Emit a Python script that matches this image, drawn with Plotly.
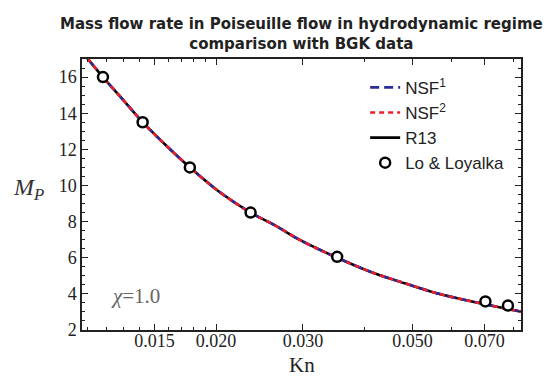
import plotly.graph_objects as go

# Curve data (R13 / NSF)
kn_curve = [0.0107, 0.0110, 0.0118, 0.0130, 0.0142, 0.0160, 0.0177, 0.0203, 0.0235,
            0.0265, 0.0295, 0.0352, 0.0416, 0.0486, 0.0568, 0.0640, 0.0703, 0.0781, 0.0830]
m_r13 = [17.4, 17.0, 16.0, 14.7, 13.5, 12.1, 11.0, 9.65, 8.5,
         7.75, 7.0, 6.0, 5.17, 4.56, 3.99, 3.66, 3.42, 3.16, 3.02]
m_nsf1 = list(m_r13)
m_nsf2 = list(m_r13)

# Lo & Loyalka BGK data
kn_data = [0.0118, 0.0142, 0.0177, 0.0235, 0.0352, 0.0703, 0.0781]
m_data = [16.0, 13.5, 11.0, 8.5, 6.05, 3.58, 3.35]

x_tickvals = [0.015, 0.020, 0.030, 0.050, 0.070]
x_ticktext = ["0.015", "0.020", "0.030", "0.050", "0.070"]
x_minor = [0.011, 0.012, 0.013, 0.014, 0.016, 0.017, 0.018, 0.019, 0.04, 0.06, 0.08]
y_tickvals = [2, 4, 6, 8, 10, 12, 14, 16]

BLUE = "#2b2ba0"
RED = "#ea1f2a"
SANS = "DejaVu Sans"

fig = go.Figure()
fig.add_trace(go.Scatter(x=kn_curve, y=m_r13, mode="lines", name="R13",
                         line=dict(color="black", width=2.6, shape="spline"), legendrank=3))
fig.add_trace(go.Scatter(x=kn_curve, y=m_nsf1, mode="lines", name="NSF<sup>1</sup>",
                         line=dict(color=BLUE, width=2.6, dash="9px,5px", shape="spline"), legendrank=1))
fig.add_trace(go.Scatter(x=kn_curve, y=m_nsf2, mode="lines", name="NSF<sup>2</sup>",
                         line=dict(color=RED, width=2.6, dash="5px,4px", shape="spline"), legendrank=2))
fig.add_trace(go.Scatter(x=kn_data, y=m_data, mode="markers", name="Lo &amp; Loyalka",
                         marker=dict(symbol="circle", size=10, color="white",
                                     line=dict(color="black", width=2.5)), legendrank=4))

axis_common = dict(showline=True, linecolor="#222", linewidth=1.5, mirror="ticks",
                   ticks="inside", tickcolor="#222", ticklen=6, tickwidth=1,
                   showgrid=False, zeroline=False,
                   tickfont=dict(family="Liberation Serif", size=18, color="#222"))

fig.update_xaxes(type="log", range=[-1.9706, -1.0809],
                 tickmode="array", tickvals=x_tickvals, ticktext=x_ticktext,
                 ticklabelstandoff=-6,
                 minor=dict(tickmode="array", tickvals=x_minor, ticks="inside",
                            ticklen=3, tickcolor="#222"),
                 **axis_common)
fig.update_yaxes(range=[2, 17], tickmode="array", tickvals=y_tickvals,
                 minor=dict(dtick=0.5, ticks="inside", ticklen=3, tickcolor="#222"),
                 **axis_common)

fig.update_layout(
    width=552, height=376,
    margin=dict(l=82, r=31, t=59, b=46),
    paper_bgcolor="white", plot_bgcolor="white",
    showlegend=True,
    legend=dict(x=0.645, y=0.96, xanchor="left", yanchor="top",
                bgcolor="rgba(0,0,0,0)", borderwidth=0,
                font=dict(family="Liberation Sans", size=17, color="#222"),
                itemwidth=30, tracegroupgap=0),
    annotations=[
        dict(text="<b>Mass flow rate in Poiseuille flow in hydrodynamic regime<br>comparison with BGK data</b>",
             xref="paper", yref="paper", x=0.5, y=1.0, yshift=4, xanchor="center", yanchor="bottom",
             showarrow=False, align="center",
             font=dict(family=SANS, size=15, color="#222")),
        dict(text="<i>M</i><sub><i>P</i></sub>", xref="paper", yref="paper",
             x=-0.162, y=0.52, xanchor="left", yanchor="middle", showarrow=False,
             font=dict(family="Liberation Serif", size=24, color="#333")),
        dict(text="Kn", xref="paper", yref="paper", x=0.5, y=-0.13,
             xanchor="center", yanchor="middle", showarrow=False,
             font=dict(family="Liberation Serif", size=21, color="#222")),
        dict(text="<i>χ</i>=1.0", xref="paper", yref="paper", x=0.0615, y=0.124,
             xanchor="left", yanchor="middle", showarrow=False,
             font=dict(family="Liberation Serif", size=21, color="#666")),
    ],
)

fig.write_html("out.html")
